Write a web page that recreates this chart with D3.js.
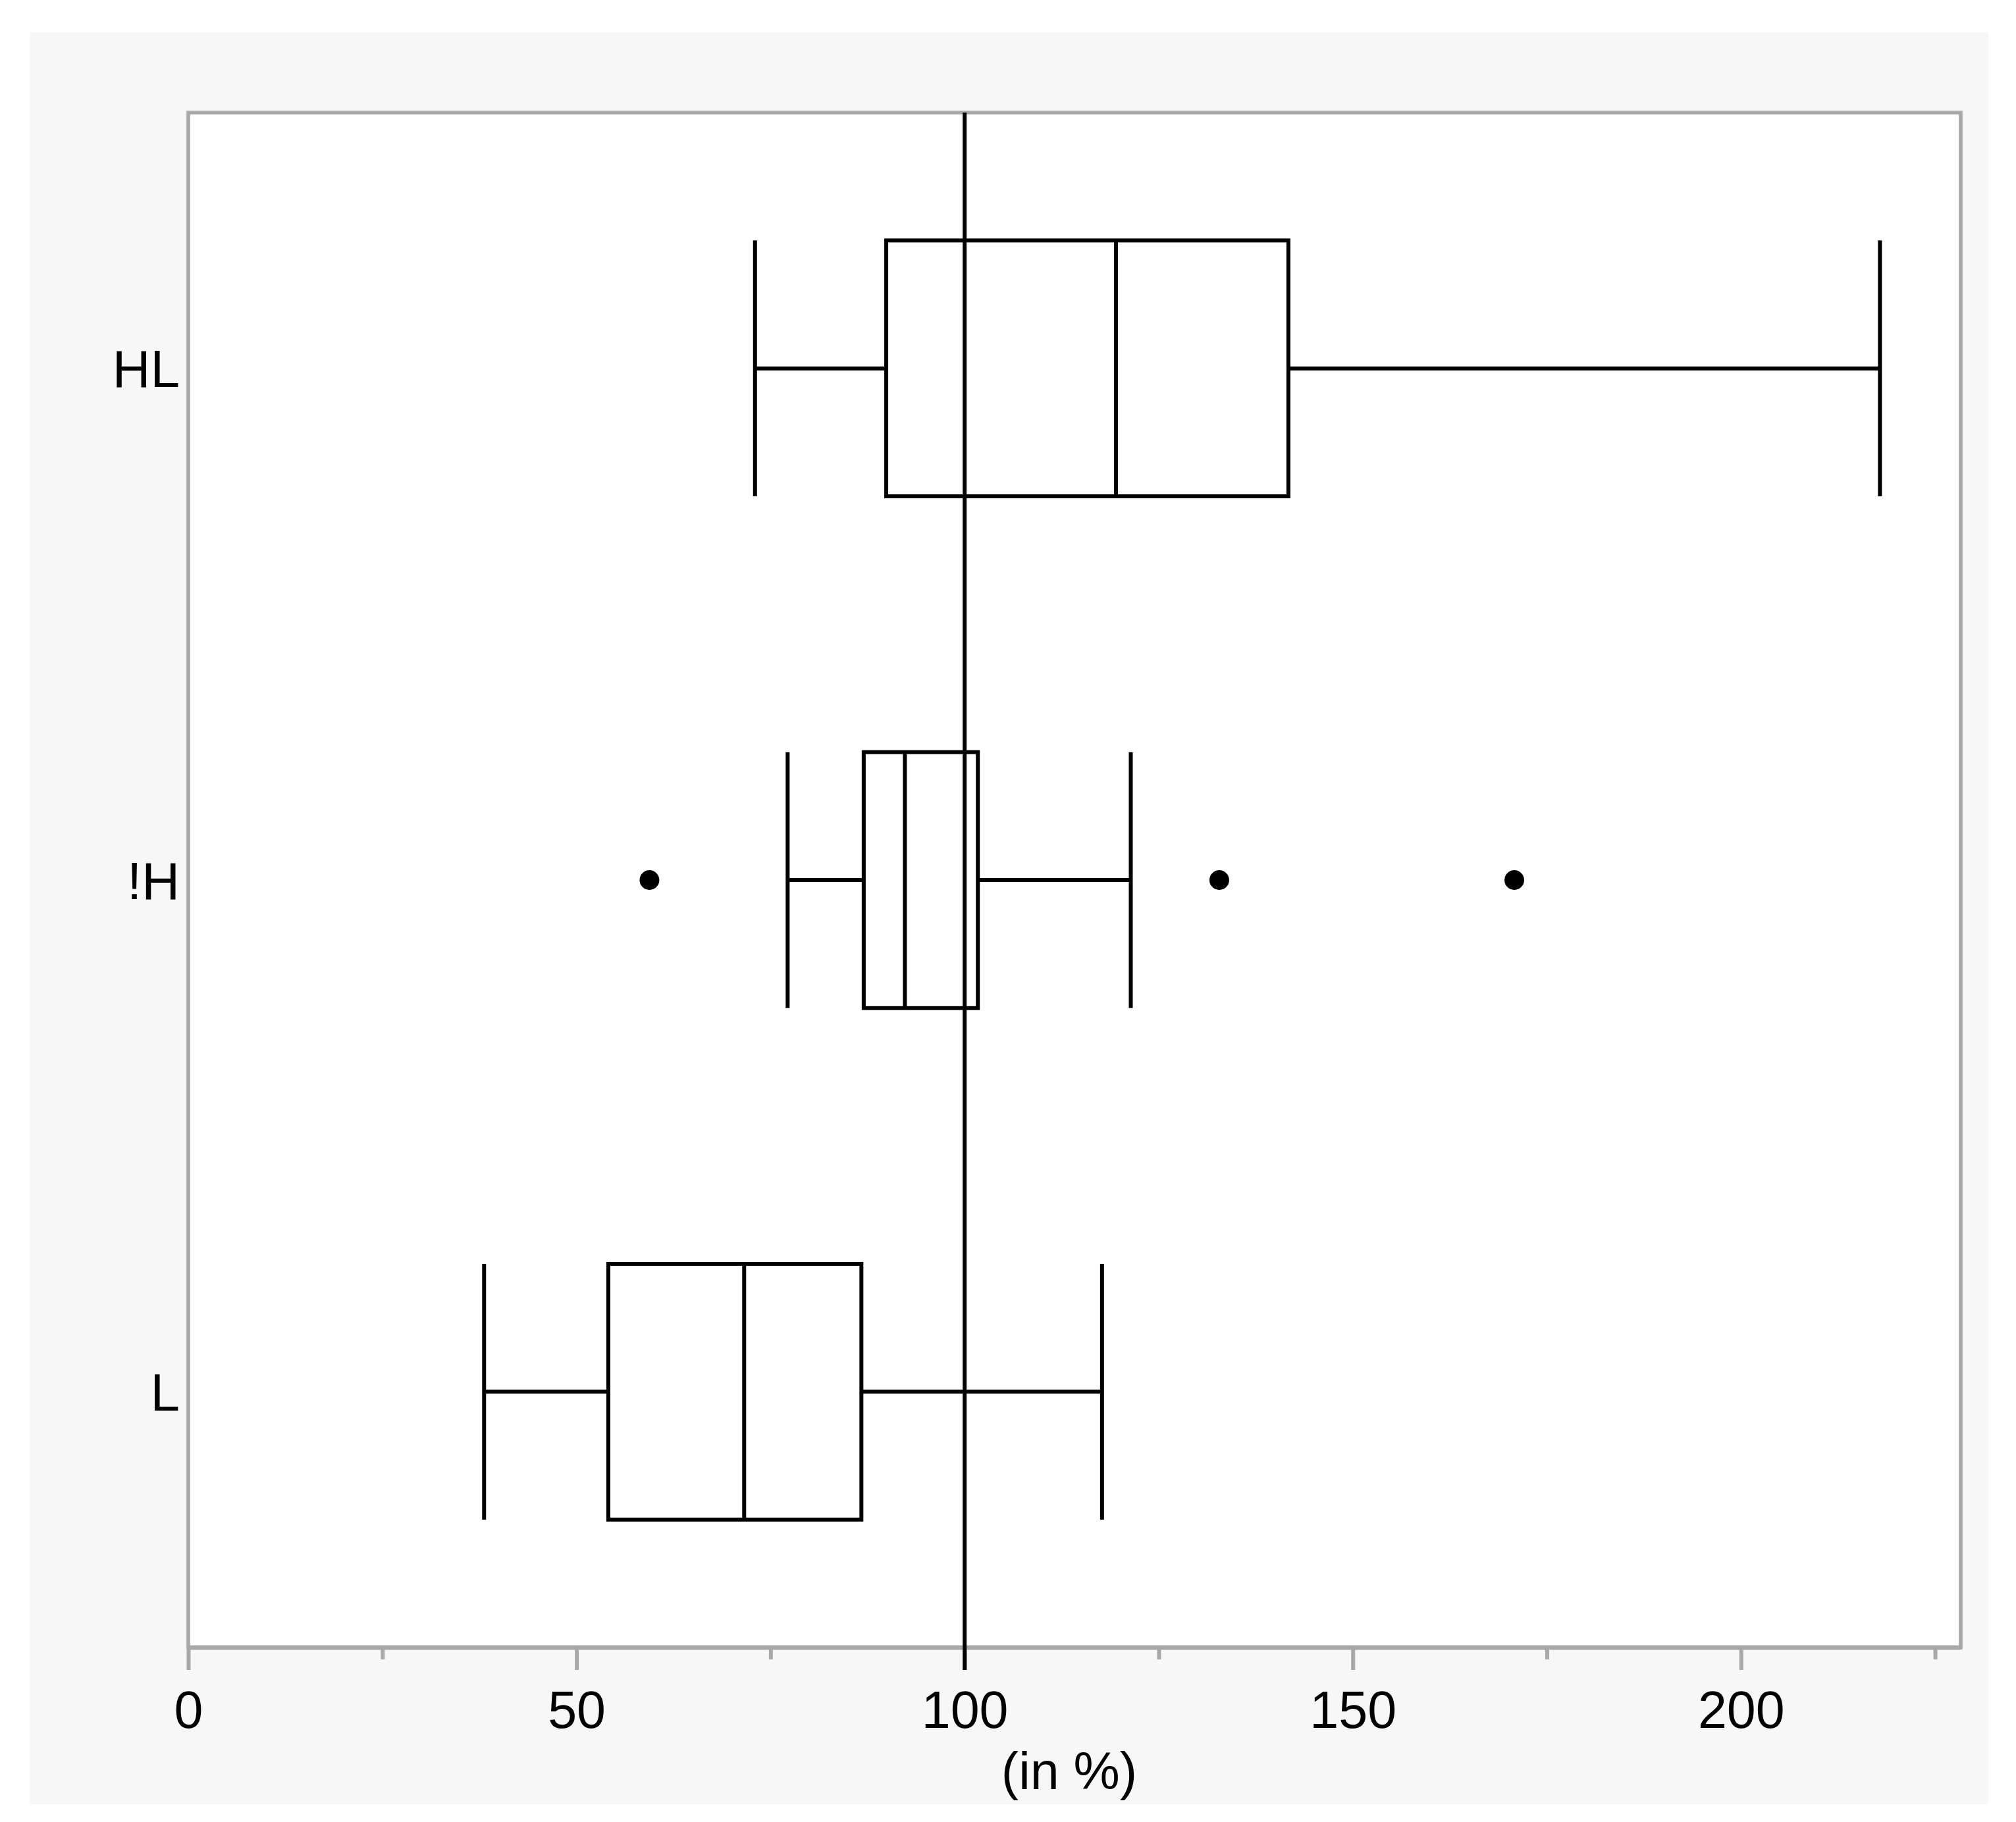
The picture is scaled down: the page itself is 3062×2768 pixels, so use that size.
<!DOCTYPE html>
<html>
<head>
<meta charset="utf-8">
<script src="https://d3js.org/d3.v7.min.js"></script>
<style>
    body { margin: 0; background: #fff; }
    text { font-family: "Liberation Sans", Arial, Helvetica, sans-serif; }
</style>
</head>
<body>
<div id="boxChart"></div>
<script>
// categories top to bottom
var groups = ['HL', '!H', 'L'];
// five number summary per group (whisker low, q1, median, q3, whisker high)
var whiskerLow = [73.0, 77.2, 38.1];
var q1 = [89.9, 87.0, 54.1];
var median = [119.5, 92.3, 71.6];
var q3 = [141.7, 101.7, 86.7];
var whiskerHigh = [217.9, 121.4, 117.7];
// outliers
var outlierGroup = ['!H', '!H', '!H'];
var outlierValue = [59.4, 132.8, 170.8];
var refValue = 100;
var majorTicks = [0, 50, 100, 150, 200];
var minorTicks = [25, 75, 125, 175, 225];
var xMax = 228.3;
var xTitle = '(in %)';

var box_padding = {
    left: 286,
    top: 171,
    right: 84,
    bottom: 265
};

function drawBox() {
    let width = 3062, height = 2768;
    let plot_w = width - box_padding.left - box_padding.right;
    let plot_h = height - box_padding.top - box_padding.bottom;

    let svg = d3.select('#boxChart')
        .append('svg')
        .attr('width', width)
        .attr('height', height);

    // outer grey panel
    svg.append('rect')
        .attr('x', 45).attr('y', 49)
        .attr('width', 2975).attr('height', 2692)
        .style('fill', '#f7f7f7');

    let g = svg.append('g')
        .attr('transform', 'translate(' + box_padding.left + ',' + box_padding.top + ')');

    g.append('rect')
        .attr('width', plot_w).attr('height', plot_h)
        .style('fill', '#fff')
        .style('stroke', '#a8a8a8')
        .style('stroke-width', 5.5);

    let xScale = d3.scaleLinear().domain([0, xMax]).range([0, plot_w]);
    let yScale = d3.scaleBand().domain(groups).range([0, plot_h]).padding(0);
    let bh = yScale.bandwidth() * 0.5;

    // minor ticks
    let minorAxis = g.append('g')
        .attr('transform', 'translate(0,' + plot_h + ')')
        .call(d3.axisBottom(xScale).tickValues(minorTicks).tickSize(18).tickFormat(''));
    // major ticks
    let majorAxis = g.append('g')
        .attr('transform', 'translate(0,' + plot_h + ')')
        .call(d3.axisBottom(xScale).tickValues(majorTicks).tickSize(34).tickPadding(31.6));

    [minorAxis, majorAxis].forEach(a => {
        a.select('.domain')
            .attr('d', 'M0,0H' + plot_w)
            .style('stroke', '#a8a8a8')
            .style('stroke-width', 6.5);
        a.selectAll('.tick line')
            .style('stroke', '#a8a8a8')
            .style('stroke-width', 6);
    });
    majorAxis.selectAll('.tick text')
        .style('font-size', '79px')
        .style('fill', '#000');

    svg.append('text')
        .attr('x', 1624)
        .attr('y', 2718)
        .style('text-anchor', 'middle')
        .style('font-size', '79px')
        .text(xTitle);

    // group labels
    g.selectAll('.ylabel')
        .data(groups)
        .enter()
        .append('text')
        .attr('class', 'ylabel')
        .attr('x', -13)
        .attr('y', d => yScale(d) + yScale.bandwidth() / 2 + 28.5)
        .style('text-anchor', 'end')
        .style('font-size', '80px')
        .text(d => d);

    let rows = groups.map((d, i) => {
        return {
            name: d,
            lo: whiskerLow[i],
            q1: q1[i],
            med: median[i],
            q3: q3[i],
            hi: whiskerHigh[i]
        };
    });

    let boxes = g.selectAll('.box')
        .data(rows)
        .enter()
        .append('g')
        .attr('class', 'box')
        .attr('transform', d => 'translate(0,' + (yScale(d.name) + yScale.bandwidth() / 2) + ')')
        .style('stroke', '#000')
        .style('stroke-width', 6)
        .style('fill', 'none');

    // whiskers
    boxes.append('line')
        .attr('x1', d => xScale(d.lo)).attr('x2', d => xScale(d.q1))
        .attr('y1', 0).attr('y2', 0);
    boxes.append('line')
        .attr('x1', d => xScale(d.q3)).attr('x2', d => xScale(d.hi))
        .attr('y1', 0).attr('y2', 0);
    boxes.append('line')
        .attr('x1', d => xScale(d.lo)).attr('x2', d => xScale(d.lo))
        .attr('y1', -bh / 2).attr('y2', bh / 2);
    boxes.append('line')
        .attr('x1', d => xScale(d.hi)).attr('x2', d => xScale(d.hi))
        .attr('y1', -bh / 2).attr('y2', bh / 2);
    // box + median
    boxes.append('rect')
        .attr('x', d => xScale(d.q1))
        .attr('y', -bh / 2)
        .attr('width', d => xScale(d.q3) - xScale(d.q1))
        .attr('height', bh);
    boxes.append('line')
        .attr('x1', d => xScale(d.med)).attr('x2', d => xScale(d.med))
        .attr('y1', -bh / 2).attr('y2', bh / 2);

    // outliers
    g.selectAll('.outlier')
        .data(outlierValue)
        .enter()
        .append('circle')
        .attr('class', 'outlier')
        .attr('cx', d => xScale(d))
        .attr('cy', (d, i) => yScale(outlierGroup[i]) + yScale.bandwidth() / 2)
        .attr('r', 15)
        .style('fill', '#000');

    // reference line at 100
    g.append('line')
        .attr('x1', xScale(refValue)).attr('x2', xScale(refValue))
        .attr('y1', 0).attr('y2', plot_h + 34)
        .style('stroke', '#000')
        .style('stroke-width', 6);
}

drawBox();
</script>
</body>
</html>
